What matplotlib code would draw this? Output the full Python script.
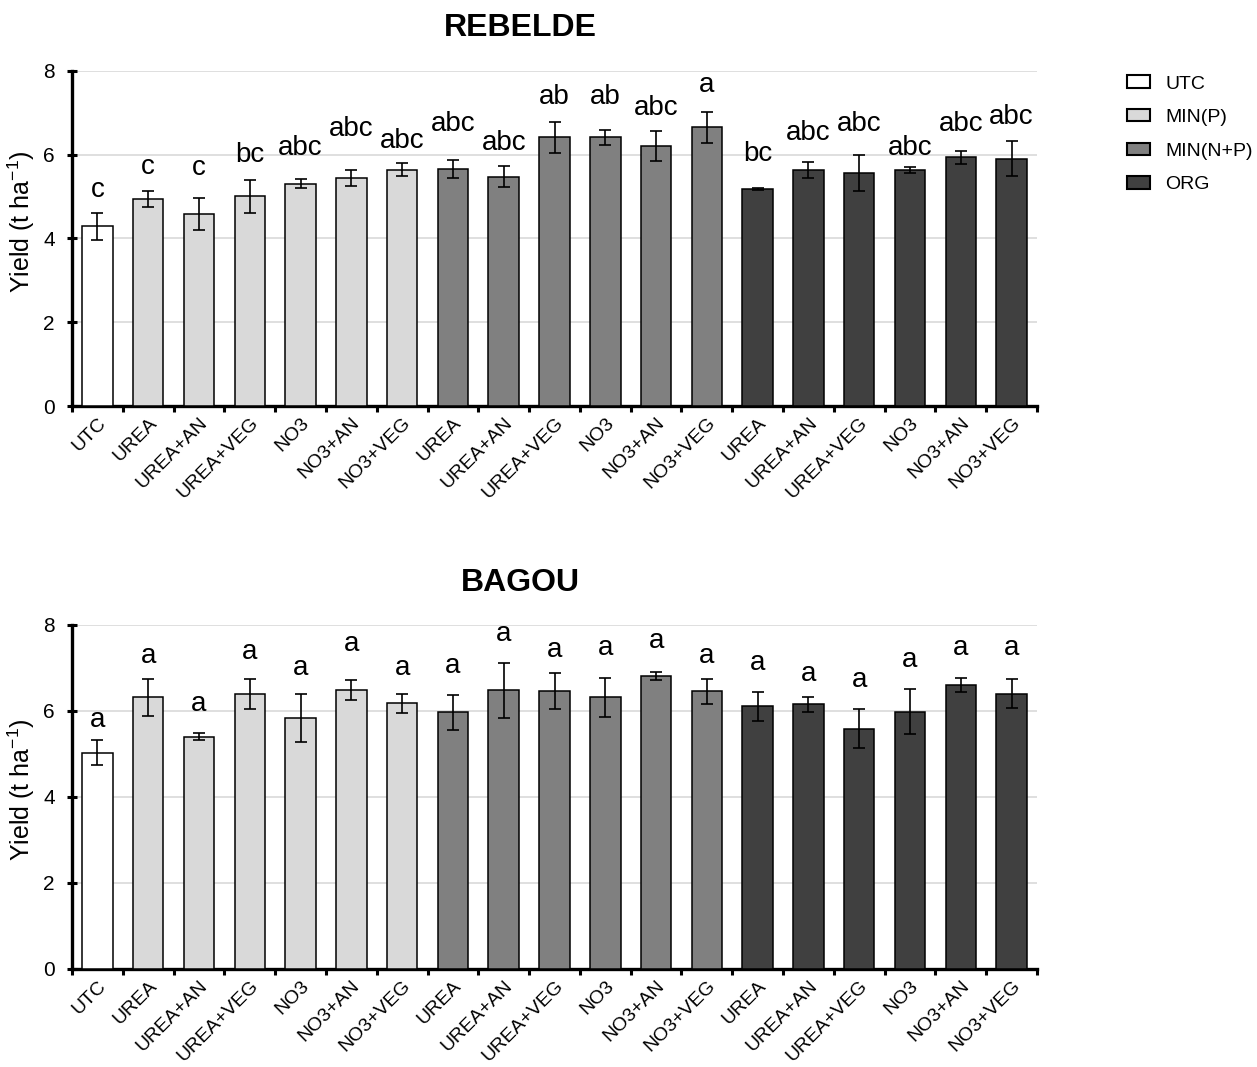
import matplotlib
matplotlib.use("Agg")
import matplotlib.pyplot as plt
from matplotlib.patches import Patch
import numpy as np

plt.rcParams['font.family'] = ['Liberation Sans', 'DejaVu Sans']
plt.rcParams['mathtext.default'] = 'regular'

treatments = ["UTC",
              "UREA", "UREA+AN", "UREA+VEG", "NO3", "NO3+AN", "NO3+VEG",
              "UREA", "UREA+AN", "UREA+VEG", "NO3", "NO3+AN", "NO3+VEG",
              "UREA", "UREA+AN", "UREA+VEG", "NO3", "NO3+AN", "NO3+VEG"]
groups = ["UTC"] + ["MIN(P)"] * 6 + ["MIN(N+P)"] * 6 + ["ORG"] * 6
group_names = ["UTC", "MIN(P)", "MIN(N+P)", "ORG"]
group_colors = {"UTC": "#ffffff", "MIN(P)": "#d9d9d9", "MIN(N+P)": "#808080", "ORG": "#404040"}

# REBELDE
rebelde_yield = [4.29, 4.94, 4.58, 5.00, 5.30, 5.43, 5.64, 5.66, 5.47, 6.41,
                 6.41, 6.20, 6.65, 5.17, 5.64, 5.56, 5.63, 5.94, 5.90]
rebelde_se = [0.32, 0.19, 0.38, 0.40, 0.11, 0.19, 0.155, 0.21, 0.25, 0.37,
              0.175, 0.36, 0.365, 0.02, 0.19, 0.42, 0.08, 0.155, 0.42]
rebelde_letters = ["c", "c", "c", "bc", "abc", "abc", "abc", "abc", "abc", "ab",
                   "ab", "abc", "a", "bc", "abc", "abc", "abc", "abc", "abc"]
rebelde_letter_y = [4.98, 5.53, 5.52, 5.83, 6.00, 6.44, 6.15, 6.55, 6.10, 7.21,
                    7.21, 6.94, 7.50, 5.85, 6.34, 6.55, 5.99, 6.55, 6.72]

# BAGOU
bagou_yield = [5.02, 6.31, 5.40, 6.39, 5.83, 6.49, 6.17, 5.96, 6.48, 6.46,
               6.31, 6.81, 6.45, 6.10, 6.15, 5.58, 5.98, 6.60, 6.40]
bagou_se = [0.29, 0.43, 0.09, 0.345, 0.565, 0.23, 0.225, 0.40, 0.64, 0.42,
            0.45, 0.10, 0.29, 0.34, 0.175, 0.45, 0.53, 0.165, 0.34]
bagou_letters = ["a"] * 19
bagou_letter_y = [5.63, 7.10, 6.00, 7.20, 6.83, 7.39, 6.83, 6.87, 7.63, 7.26,
                  7.30, 7.47, 7.10, 6.95, 6.70, 6.55, 7.01, 7.30, 7.30]

W, H = 1257, 1067
fig = plt.figure(figsize=(W / 100, H / 100), dpi=100)


def draw_panel(rect, values, errors, letters, letter_y, title, title_y, label_y):
    ax = fig.add_axes(rect)
    x = np.arange(len(values)) + 0.5
    colors = [group_colors[g] for g in groups]
    ax.bar(x, values, width=0.6, color=colors, edgecolor="black", linewidth=1.1, zorder=3)
    ax.errorbar(x, values, yerr=errors, fmt="none", ecolor="black", elinewidth=1.2,
                capsize=4, capthick=1.2, zorder=4)
    for xi, lab, ly in zip(x, letters, letter_y):
        ax.text(xi, ly, lab, ha="center", va="baseline", fontsize=20, zorder=5)

    ax.set_xlim(0, len(values))
    ax.set_ylim(0, 8)
    ax.set_yticks([0, 2, 4, 6, 8])
    ax.yaxis.grid(True, color="#d9d9d9", linewidth=1.2, zorder=0)
    ax.set_axisbelow(True)

    # ticks sit between bars, names sit under the bars
    ax.set_xticks(np.arange(len(values) + 1))
    ax.set_xticklabels([])
    ax.set_xticks(x, minor=True)
    ax.set_xticklabels(treatments, minor=True, rotation=45, ha="right",
                       rotation_mode="anchor", fontsize=14)
    ax.tick_params(axis="x", which="minor", length=0, pad=6)
    ax.tick_params(axis="x", which="major", direction="out", length=4, width=2.2)
    ax.tick_params(axis="y", direction="inout", length=7, width=2.2, labelsize=15, pad=9)

    for side in ["top", "right"]:
        ax.spines[side].set_visible(False)
    for side in ["left", "bottom"]:
        ax.spines[side].set_linewidth(2.4)

    ax.set_ylabel("Yield (t ha$^{-1}$)", fontsize=18, va="center")
    ax.yaxis.set_label_coords(-0.053, label_y)
    fig.text(520 / W, 1 - title_y / H, title, ha="center", va="center",
             fontsize=23, fontweight="bold")
    return ax


left = 72 / W
width = (1037 - 72) / W
draw_panel([left, 1 - 406 / H, width, (406 - 70.7) / H],
           rebelde_yield, rebelde_se, rebelde_letters, rebelde_letter_y,
           "REBELDE", 28, 0.55)
draw_panel([left, 1 - 969 / H, width, (969 - 624.7) / H],
           bagou_yield, bagou_se, bagou_letters, bagou_letter_y,
           "BAGOU", 583, 0.52)

handles = [Patch(facecolor=group_colors[g], edgecolor="black", linewidth=1.5, label=g)
           for g in group_names]
fig.legend(handles=handles, loc="upper left", bbox_to_anchor=(1109 / W, 1 - 58 / H),
           frameon=False, fontsize=14, handlelength=1.2, handleheight=0.6,
           handletextpad=0.8, labelspacing=0.85)

fig.savefig("out.png", dpi=100)
